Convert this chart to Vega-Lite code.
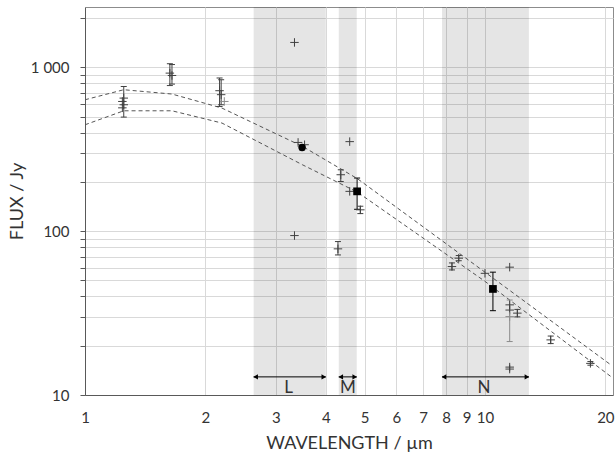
{
  "$schema": "https://vega.github.io/schema/vega-lite/v6.json",
  "width": 528,
  "height": 388,
  "autosize": "none",
  "padding": {"left": 85, "top": 7, "right": 3, "bottom": 59},
  "background": "white",
  "config": {
    "font": "Lato",
    "view": {"stroke": "#8c8c8c", "strokeWidth": 1},
    "axis": {
      "domainColor": "#595959",
      "tickColor": "#595959",
      "gridColor": "#d9d9d9",
      "labelColor": "#333333",
      "titleColor": "#333333",
      "labelFont": "Lato",
      "titleFont": "Lato",
      "labelFontSize": 15,
      "titleFontSize": 18,
      "titleFontWeight": "normal"
    }
  },
  "datasets": {
    "bands": [
      {"band": "L", "x0": 2.64, "x1": 4.0, "lx": 3.23},
      {"band": "M", "x0": 4.31, "x1": 4.78, "lx": 4.54},
      {"band": "N", "x0": 7.81, "x1": 12.88, "lx": 9.94}
    ],
    "model": [
      {"lam": 1.0, "flux": 634, "m": "upper"},
      {"lam": 1.25, "flux": 730, "m": "upper"},
      {"lam": 1.65, "flux": 687, "m": "upper"},
      {"lam": 2.2, "flux": 564, "m": "upper"},
      {"lam": 3.5, "flux": 329, "m": "upper"},
      {"lam": 4.8, "flux": 209, "m": "upper"},
      {"lam": 10.0, "flux": 56.2, "m": "upper"},
      {"lam": 20.7, "flux": 15.2, "m": "upper"},
      {"lam": 1.0, "flux": 446, "m": "lower"},
      {"lam": 1.25, "flux": 543, "m": "lower"},
      {"lam": 1.65, "flux": 543, "m": "lower"},
      {"lam": 2.2, "flux": 457, "m": "lower"},
      {"lam": 3.5, "flux": 254, "m": "lower"},
      {"lam": 4.8, "flux": 173, "m": "lower"},
      {"lam": 10.0, "flux": 49.4, "m": "lower"},
      {"lam": 20.7, "flux": 12.9, "m": "lower"}
    ],
    "obs": [
      {"lam": 1.25, "flux": 649, "lo": 497, "hi": 764, "kind": "cross", "g": "d"},
      {"lam": 1.24, "flux": 619, "kind": "cross", "g": "d"},
      {"lam": 1.25, "flux": 591, "kind": "cross", "g": "d"},
      {"lam": 1.24, "flux": 566, "kind": "cross", "g": "d"},
      {"lam": 1.63, "flux": 922, "lo": 774, "hi": 1052, "kind": "cross", "g": "d"},
      {"lam": 1.65, "flux": 892, "lo": 790, "hi": 1040, "kind": "cross", "g": "d"},
      {"lam": 2.17, "flux": 720, "lo": 577, "hi": 861, "kind": "cross", "g": "d"},
      {"lam": 2.19, "flux": 681, "lo": 591, "hi": 840, "kind": "cross", "g": "d"},
      {"lam": 2.23, "flux": 619, "kind": "cross", "g": "g"},
      {"lam": 3.34, "flux": 1419, "kind": "cross", "g": "d"},
      {"lam": 3.34, "flux": 94, "kind": "cross", "g": "d"},
      {"lam": 3.41, "flux": 348, "kind": "cross", "g": "d"},
      {"lam": 3.54, "flux": 337, "kind": "cross", "g": "d"},
      {"lam": 3.49, "flux": 324, "lo": 314, "hi": 334, "kind": "circle", "g": "b"},
      {"lam": 4.29, "flux": 78, "lo": 71.6, "hi": 86.4, "kind": "cross", "g": "d"},
      {"lam": 4.36, "flux": 221, "lo": 201, "hi": 237, "kind": "cross", "g": "d"},
      {"lam": 4.59, "flux": 352, "kind": "cross", "g": "d"},
      {"lam": 4.59, "flux": 175, "kind": "cross", "g": "d"},
      {"lam": 4.79, "flux": 175, "lo": 136, "hi": 211, "kind": "square", "g": "b"},
      {"lam": 4.88, "flux": 135, "lo": 128, "hi": 142, "kind": "cross", "g": "d"},
      {"lam": 8.27, "flux": 60.8, "lo": 58, "hi": 64, "kind": "cross", "g": "d"},
      {"lam": 8.6, "flux": 68.4, "lo": 66, "hi": 71, "kind": "cross", "g": "d"},
      {"lam": 10.0, "flux": 55.3, "kind": "cross", "g": "d"},
      {"lam": 10.47, "flux": 44.4, "lo": 32.7, "hi": 56.2, "kind": "square", "g": "b"},
      {"lam": 11.53, "flux": 60.3, "kind": "cross", "g": "d"},
      {"lam": 11.53, "flux": 35.5, "kind": "cross", "g": "d"},
      {"lam": 11.53, "flux": 33.0, "kind": "cross", "g": "d"},
      {"lam": 11.53, "flux": 30.1, "lo": 21.2, "hi": 38.0, "kind": "cross", "g": "g"},
      {"lam": 12.05, "flux": 31.6, "lo": 30, "hi": 33.3, "kind": "cross", "g": "d"},
      {"lam": 11.53, "flux": 14.8, "kind": "cross", "g": "d"},
      {"lam": 11.53, "flux": 14.4, "kind": "cross", "g": "d"},
      {"lam": 14.6, "flux": 21.7, "lo": 20.6, "hi": 22.9, "kind": "cross", "g": "d"},
      {"lam": 18.35, "flux": 15.6, "lo": 15.2, "hi": 16.0, "kind": "cross", "g": "d"}
    ]
  },
  "layer": [
    {
      "data": {"name": "bands"},
      "mark": {"type": "rect", "color": "#000000", "opacity": 0.1},
      "encoding": {
        "x": {"field": "x0", "type": "quantitative", "title": "WAVELENGTH / µm",
          "scale": {"type": "log", "domain": [1, 20.9], "nice": false},
          "axis": {"values": [1, 2, 3, 4, 5, 6, 7, 8, 9, 10, 20], "grid": true, "ticks": false, "labelPadding": 15, "titlePadding": 9, "format": "d", "labelFlush": false}},
        "x2": {"field": "x1"}
      }
    },
    {
      "data": {"name": "model"},
      "mark": {"type": "line", "color": "#555555", "strokeWidth": 1, "strokeDash": [4, 3]},
      "encoding": {
        "x": {"field": "lam", "type": "quantitative", "title": "WAVELENGTH / µm", "scale": {"type": "log", "domain": [1, 20.9], "nice": false}},
        "y": {"field": "flux", "type": "quantitative", "title": "FLUX / Jy",
          "scale": {"type": "log", "domain": [10, 2335], "nice": false},
          "axis": {"values": [10, 20, 30, 40, 50, 60, 70, 80, 90, 100, 200, 300, 400, 500, 600, 700, 800, 900, 1000, 2000],
            "grid": true, "tickSize": 5, "labelPadding": 11, "titlePadding": 4,
            "labelExpr": "datum.value == 1000 ? '1 000' : (datum.value == 10 ? '10' : (datum.value == 100 ? '100' : ''))"}},
        "detail": {"field": "m"}
      }
    },
    {
      "data": {"name": "obs"},
      "transform": [{"filter": "isValid(datum.lo)"}],
      "mark": {"type": "rule"},
      "encoding": {
        "x": {"field": "lam", "type": "quantitative", "title": "WAVELENGTH / µm", "scale": {"type": "log", "domain": [1, 20.9], "nice": false}},
        "y": {"field": "lo", "type": "quantitative", "title": "FLUX / Jy", "scale": {"type": "log", "domain": [10, 2335], "nice": false}},
        "y2": {"field": "hi"},
        "color": {"field": "g", "type": "nominal", "scale": {"domain": ["d", "g", "b"], "range": ["#404040", "#8c8c8c", "#000000"]}, "legend": null},
        "strokeWidth": {"field": "g", "type": "nominal", "scale": {"domain": ["d", "g", "b"], "range": [1, 1, 2]}, "legend": null}
      }
    },
    {
      "data": {"name": "obs"},
      "transform": [{"filter": "isValid(datum.lo)"}, {"fold": ["lo", "hi"], "as": ["end", "v"]}],
      "mark": {"type": "point", "shape": "M-1,0H1", "filled": false, "size": 36},
      "encoding": {
        "x": {"field": "lam", "type": "quantitative", "title": "WAVELENGTH / µm", "scale": {"type": "log", "domain": [1, 20.9], "nice": false}},
        "y": {"field": "v", "type": "quantitative", "title": "FLUX / Jy", "scale": {"type": "log", "domain": [10, 2335], "nice": false}},
        "stroke": {"field": "g", "type": "nominal", "scale": {"domain": ["d", "g", "b"], "range": ["#404040", "#8c8c8c", "#000000"]}, "legend": null},
        "strokeWidth": {"field": "g", "type": "nominal", "scale": {"domain": ["d", "g", "b"], "range": [1, 1, 1.5]}, "legend": null},
        "opacity": {"value": 1}
      }
    },
    {
      "data": {"name": "obs"},
      "transform": [{"filter": "datum.kind == 'cross'"}],
      "mark": {"type": "point", "shape": "M-1,0H1M0,-1V1", "filled": false, "size": 72, "strokeWidth": 1},
      "encoding": {
        "x": {"field": "lam", "type": "quantitative", "title": "WAVELENGTH / µm", "scale": {"type": "log", "domain": [1, 20.9], "nice": false}},
        "y": {"field": "flux", "type": "quantitative", "title": "FLUX / Jy", "scale": {"type": "log", "domain": [10, 2335], "nice": false}},
        "stroke": {"field": "g", "type": "nominal", "scale": {"domain": ["d", "g", "b"], "range": ["#404040", "#8c8c8c", "#000000"]}, "legend": null},
        "opacity": {"value": 1}
      }
    },
    {
      "data": {"name": "obs"},
      "transform": [{"filter": "datum.kind == 'circle' || datum.kind == 'square'"}],
      "mark": {"type": "point", "filled": true, "color": "#000000", "opacity": 1},
      "encoding": {
        "x": {"field": "lam", "type": "quantitative", "title": "WAVELENGTH / µm", "scale": {"type": "log", "domain": [1, 20.9], "nice": false}},
        "y": {"field": "flux", "type": "quantitative", "title": "FLUX / Jy", "scale": {"type": "log", "domain": [10, 2335], "nice": false}},
        "shape": {"field": "kind", "type": "nominal", "scale": {"domain": ["circle", "square"], "range": ["circle", "square"]}, "legend": null},
        "size": {"field": "kind", "type": "nominal", "scale": {"domain": ["circle", "square"], "range": [55, 60]}, "legend": null}
      }
    },
    {
      "data": {"name": "bands"},
      "mark": {"type": "rule", "color": "#000000", "strokeWidth": 1},
      "encoding": {
        "x": {"field": "x0", "type": "quantitative", "title": "WAVELENGTH / µm", "scale": {"type": "log", "domain": [1, 20.9], "nice": false}},
        "x2": {"field": "x1"},
        "y": {"datum": 12.9, "type": "quantitative", "scale": {"type": "log", "domain": [10, 2335], "nice": false}, "title": "FLUX / Jy"}
      }
    },
    {
      "data": {"name": "bands"},
      "mark": {"type": "point", "shape": "triangle-left", "filled": true, "color": "#000000", "size": 28, "opacity": 1, "xOffset": 2},
      "encoding": {
        "x": {"field": "x0", "type": "quantitative", "title": "WAVELENGTH / µm", "scale": {"type": "log", "domain": [1, 20.9], "nice": false}},
        "y": {"datum": 12.9, "type": "quantitative", "scale": {"type": "log", "domain": [10, 2335], "nice": false}, "title": "FLUX / Jy"}
      }
    },
    {
      "data": {"name": "bands"},
      "mark": {"type": "point", "shape": "triangle-right", "filled": true, "color": "#000000", "size": 28, "opacity": 1, "xOffset": -2},
      "encoding": {
        "x": {"field": "x1", "type": "quantitative", "title": "WAVELENGTH / µm", "scale": {"type": "log", "domain": [1, 20.9], "nice": false}},
        "y": {"datum": 12.9, "type": "quantitative", "scale": {"type": "log", "domain": [10, 2335], "nice": false}, "title": "FLUX / Jy"}
      }
    },
    {
      "data": {"name": "bands"},
      "mark": {"type": "text", "fontSize": 17, "color": "#333333", "baseline": "middle", "align": "center"},
      "encoding": {
        "x": {"field": "lx", "type": "quantitative", "title": "WAVELENGTH / µm", "scale": {"type": "log", "domain": [1, 20.9], "nice": false}},
        "y": {"datum": 11.1, "type": "quantitative", "scale": {"type": "log", "domain": [10, 2335], "nice": false}, "title": "FLUX / Jy"},
        "text": {"field": "band"}
      }
    }
  ]
}
